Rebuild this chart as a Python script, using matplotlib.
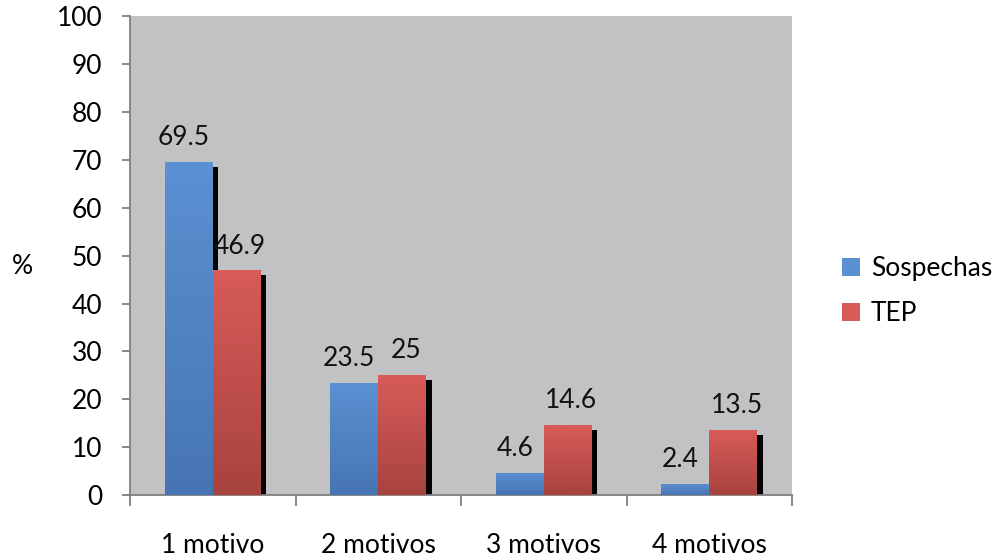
import matplotlib
matplotlib.use("Agg")
import matplotlib.pyplot as plt
import numpy as np
from matplotlib.patches import Patch
from matplotlib.colors import LinearSegmentedColormap

plt.rcParams['font.family'] = ['Lato', 'DejaVu Sans']

categories = ['1 motivo', '2 motivos', '3 motivos', '4 motivos']
sospechas = [69.5, 23.5, 4.6, 2.4]
tep = [46.9, 25, 14.6, 13.5]
series_names = ['Sospechas', 'TEP']

blue_top, blue_bot = '#5b90d2', '#4775b3'
red_top, red_bot = '#d75b58', '#a8433f'

fig = plt.figure(figsize=(9.94, 5.6), dpi=100)
ax = fig.add_axes([0.1308, 0.116, 0.666, 0.855])
ax.set_facecolor('#c2c2c4')

x = np.arange(len(categories))
w = 0.29
shift = 0.032


def gradient_bars(bars, top, bottom):
    cmap = LinearSegmentedColormap.from_list('g', [bottom, top])
    grad = np.linspace(0, 1, 64).reshape(-1, 1)
    for b in bars:
        x0, y0 = b.get_x(), b.get_y()
        im = ax.imshow(grad, cmap=cmap, origin='lower', aspect='auto',
                       extent=[x0, x0 + b.get_width(), y0, y0 + b.get_height()],
                       zorder=3)
        im.set_clip_path(b)


# drop shadows behind each bar
ax.bar(x - w / 2 + shift, np.array(sospechas) - 1, w, color='black', zorder=1)
ax.bar(x + w / 2 + shift, np.array(tep) - 1, w, color='black', zorder=1)

b1 = ax.bar(x - w / 2, sospechas, w, color=blue_top, zorder=2)
b2 = ax.bar(x + w / 2, tep, w, color=red_top, zorder=2)
gradient_bars(b1, blue_top, blue_bot)
gradient_bars(b2, red_top, red_bot)

for xi, v in zip(x - w / 2, sospechas):
    ax.text(xi - 0.03, v + 2.5, f'{v:g}', ha='center', va='bottom', fontsize=19, color='#111111')
for xi, v in zip(x + w / 2, tep):
    ax.text(xi + 0.02, v + 2.5, f'{v:g}', ha='center', va='bottom', fontsize=19, color='#111111')

ax.set_xlim(-0.5, len(categories) - 0.5)
ax.set_ylim(0, 100)
ax.set_yticks(range(0, 101, 10))

ax.set_xticks(x)
ax.set_xticklabels(categories)
ax.set_xticks(np.arange(len(categories) + 1) - 0.5, minor=True)
ax.tick_params(axis='x', which='major', length=0, pad=27, labelsize=19)
ax.tick_params(axis='x', which='minor', length=8, width=1.3, color='#7f7f7f', direction='out')
ax.tick_params(axis='y', length=6, width=1.3, color='#7f7f7f', pad=14, labelsize=19)

for side in ['top', 'right']:
    ax.spines[side].set_visible(False)
for side in ['left', 'bottom']:
    ax.spines[side].set_color('#7f7f7f')
    ax.spines[side].set_linewidth(1.3)

fig.text(0.012, 0.525, '%', fontsize=19, ha='left', va='center')

handles = [Patch(facecolor=blue_top, edgecolor='none'), Patch(facecolor=red_top, edgecolor='none')]
fig.legend(handles, series_names, loc='center left', bbox_to_anchor=(0.823, 0.48),
           frameon=False, fontsize=19, handlelength=0.7, handleheight=0.7,
           handletextpad=0.4, labelspacing=0.75)

fig.savefig('out.png', dpi=100, facecolor='white')
